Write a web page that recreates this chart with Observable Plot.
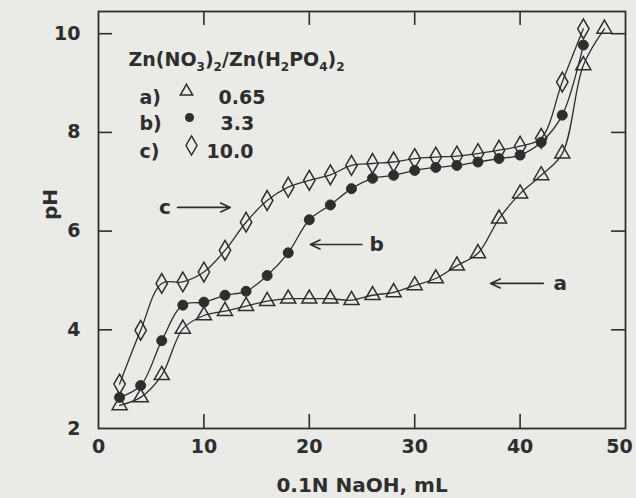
<!DOCTYPE html>
<html>
<head>
<meta charset="utf-8">
<script src="https://cdn.jsdelivr.net/npm/d3@7"></script>
<script src="https://cdn.jsdelivr.net/npm/@observablehq/plot@0.6"></script>
<style>
  html, body { margin: 0; padding: 0; background: #eaeae7; }
</style>
</head>
<body>
<div id="chart"></div>
<script>
// Volume of 0.1N NaOH (mL)
const volA = [2,4,6,8,10,12,14,16,18,20,22,24,26,28,30,32,34,36,38,40,42,44,46,48];
const volB = [2,4,6,8,10,12,14,16,18,20,22,24,26,28,30,32,34,36,38,40,42,44,46];
const volC = [2,4,6,8,10,12,14,16,18,20,22,24,26,28,30,32,34,36,38,40,42,44,46];
// pH readings
const phA = [2.47,2.63,3.08,4.02,4.29,4.38,4.48,4.58,4.63,4.63,4.63,4.6,4.7,4.76,4.9,5.04,5.3,5.55,6.25,6.76,7.13,7.57,9.36,10.1];
const phB = [2.63,2.87,3.78,4.5,4.56,4.7,4.78,5.1,5.56,6.23,6.53,6.86,7.07,7.13,7.23,7.29,7.33,7.4,7.47,7.54,7.8,8.35,9.77];
const phC = [2.9,3.99,4.94,4.97,5.17,5.61,6.18,6.62,6.89,7.03,7.14,7.33,7.37,7.4,7.47,7.5,7.52,7.57,7.64,7.72,7.88,9.02,10.1];

const seriesNames = ["a", "b", "c"];
const ratios = ["0.65", "3.3", "10.0"];
const legendTitle = "Zn(NO3)2/Zn(H2PO4)2";
const xTicks = [0,10,20,30,40];
const xTickLast = [50];
const yTicks = [2,4,6,8,10];
const innerXTicks = [10,20,30,40];
const innerYTicks = [4,6,8,10];
const xLabel = "0.1N NaOH, mL";
const yLabel = "pH";

// annotation arrows (data units)
const annotLabels = ["c", "b", "a"];
const annotTextX = [6.3, 26.4, 43.8];
const annotFromX = [7.5, 25.0, 42.2];
const annotToX = [12.5, 20.1, 37.2];
const annotY = [6.48, 5.73, 4.94];

const toRows = (xs, ys, s) => xs.map((v, i) => ({x: v, y: ys[i], s}));
const rowsA = toRows(volA, phA, seriesNames[0]);
const rowsB = toRows(volB, phB, seriesNames[1]);
const rowsC = toRows(volC, phC, seriesNames[2]);
const all = [...rowsA, ...rowsB, ...rowsC];
const annots = annotLabels.map((l, i) => ({l, tx: annotTextX[i], x1: annotFromX[i], x2: annotToX[i], y: annotY[i]}));

const ink = "#2e2e2e";
const FONT = "'DejaVu Sans', Verdana, sans-serif";
const W = 636, H = 498, ML = 98, MR = 11, MT = 11, MB = 70;
const frameW = W - ML - MR, frameH = H - MT - MB, TICK = 14;
const rowDy = [79, 105, 133];
const symDx = [88, 91, 93];
const valDx = [120, 122, 108];
const legendSyms = [
  {symbol: "triangle", fill: "none", r: 4.6},
  {symbol: "circle", fill: ink, r: 3.8},
  {symbol: "diamond", fill: "none", r: 5.8}
];

const chart = Plot.plot({
  width: W,
  height: H,
  marginLeft: ML,
  marginRight: MR,
  marginTop: MT,
  marginBottom: MB,
  x: {domain: [0, 50]},
  y: {domain: [2, 10.45]},
  style: {
    background: "#eaeae7",
    color: ink,
    fontFamily: FONT,
    fontSize: "19px",
    fontWeight: "bold"
  },
  marks: [
    Plot.axisX({ticks: xTicks, tickSize: 0, tickPadding: 11, label: null, fontSize: 19}),
    Plot.axisX({ticks: xTickLast, tickSize: 0, tickPadding: 11, label: null, fontSize: 19, dx: -6}),
    Plot.axisY({ticks: yTicks, tickSize: 0, tickPadding: 18, label: null, fontSize: 19}),
    Plot.ruleX(innerXTicks, {x: d => d, insetTop: frameH - TICK, stroke: ink, strokeWidth: 1.6}),
    Plot.ruleX(innerXTicks, {x: d => d, insetBottom: frameH - TICK, stroke: ink, strokeWidth: 1.6}),
    Plot.ruleY(innerYTicks, {y: d => d, insetRight: frameW - TICK, stroke: ink, strokeWidth: 1.6}),
    Plot.ruleY(innerYTicks, {y: d => d, insetLeft: frameW - TICK, stroke: ink, strokeWidth: 1.6}),
    Plot.frame({stroke: ink, strokeWidth: 1.8}),
    Plot.line(all, {x: "x", y: "y", z: "s", curve: "catmull-rom", stroke: ink, strokeWidth: 1.3}),
    Plot.dot(rowsA, {x: "x", y: "y", symbol: "triangle", r: 5.6, fill: "none", stroke: ink, strokeWidth: 1.5}),
    Plot.dot(rowsB, {x: "x", y: "y", symbol: "circle", r: 5, fill: ink, stroke: ink, strokeWidth: 1}),
    Plot.dot(rowsC, {x: "x", y: "y", symbol: "diamond", r: 6, fill: "none", stroke: ink, strokeWidth: 1.5}),
    Plot.arrow(annots, {x1: "x1", x2: "x2", y1: "y", y2: "y", stroke: ink, strokeWidth: 1.6, headLength: 10, headAngle: 50}),
    Plot.text(annots, {x: "tx", y: "y", text: "l", fontSize: 20, fill: ink}),
    Plot.text([legendTitle], {frameAnchor: "top-left", dx: 30, dy: 41, textAnchor: "start", fontSize: 19, fill: ink, className: "legend-title"}),
    ...seriesNames.map((s, i) => Plot.text([s + ")"], {frameAnchor: "top-left", dx: 41, dy: rowDy[i], textAnchor: "start", fontSize: 19, fill: ink})),
    ...legendSyms.map((d, i) => Plot.dot([0], {frameAnchor: "top-left", dx: symDx[i], dy: rowDy[i] + 1, symbol: d.symbol, r: d.r, fill: d.fill, stroke: ink, strokeWidth: 1.5})),
    ...ratios.map((v, i) => Plot.text([v], {frameAnchor: "top-left", dx: valDx[i], dy: rowDy[i], textAnchor: "start", fontSize: 19, fill: ink})),
    Plot.text([xLabel], {frameAnchor: "bottom", dy: 63, fontSize: 20, fill: ink}),
    Plot.text([yLabel], {frameAnchor: "left", dx: -48, rotate: -90, fontSize: 20, fill: ink})
  ]
});

// render digits of the legend title as subscripts
const t = chart.querySelector(".legend-title text");
if (t) {
  const parts = legendTitle.match(/\d+|\D+/g);
  t.textContent = "";
  let sub = false;
  for (const p of parts) {
    const isSub = /\d/.test(p);
    const ts = document.createElementNS("http://www.w3.org/2000/svg", "tspan");
    ts.textContent = p;
    if (isSub) { ts.setAttribute("font-size", "12"); ts.setAttribute("dy", "5"); }
    else if (sub) { ts.setAttribute("dy", "-5"); }
    sub = isSub;
    t.appendChild(ts);
  }
}
document.getElementById("chart").appendChild(chart);
</script>
</body>
</html>
